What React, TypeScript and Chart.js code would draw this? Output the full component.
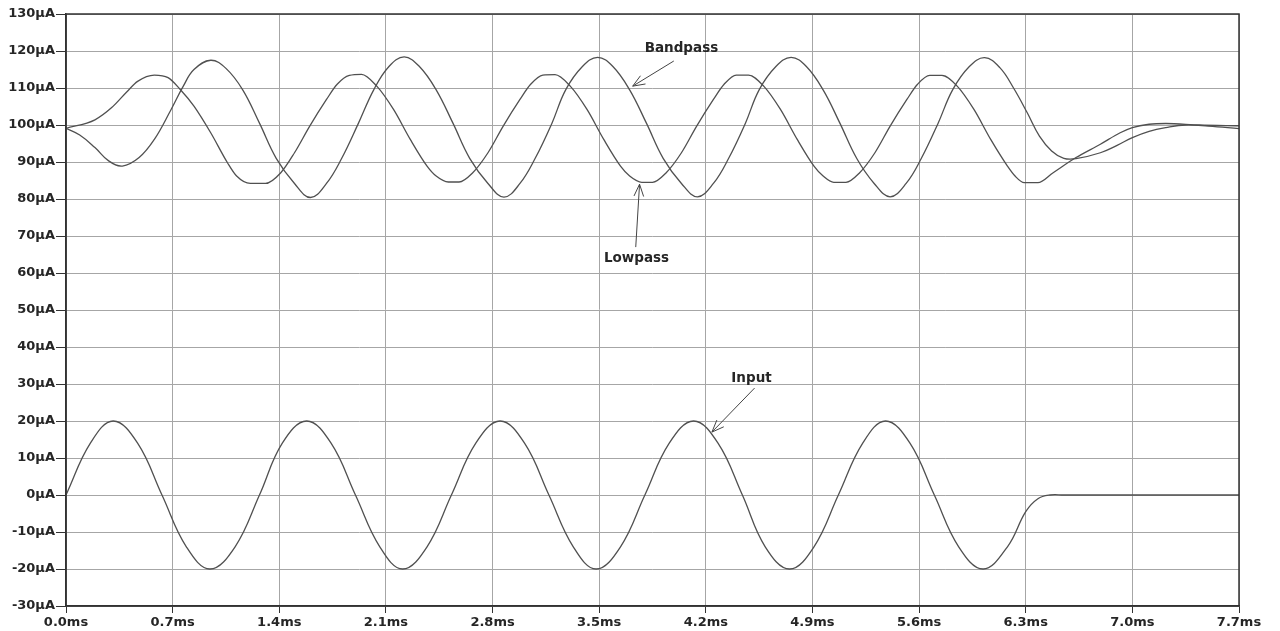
import React, { useEffect, useRef } from "react";
import { Chart, registerables } from "chart.js";

Chart.register(...registerables);

// Time axis (ms) and current axis (µA) ticks
const xTickValues = [0, 0.7, 1.4, 2.1, 2.8, 3.5, 4.2, 4.9, 5.6, 6.3, 7.0, 7.7];
const xTickLabels = ["0.0ms", "0.7ms", "1.4ms", "2.1ms", "2.8ms", "3.5ms", "4.2ms", "4.9ms", "5.6ms", "6.3ms", "7.0ms", "7.7ms"];
const yTickValues = [-30, -20, -10, 0, 10, 20, 30, 40, 50, 60, 70, 80, 90, 100, 110, 120, 130];
const yTickLabels = ["-30µA", "-20µA", "-10µA", "0µA", "10µA", "20µA", "30µA", "40µA", "50µA", "60µA", "70µA", "80µA", "90µA", "100µA", "110µA", "120µA", "130µA"];

// [time ms, current µA]
const inputPoints: [number, number][] = [
  [0, 0], [0.16, 14], [0.31, 20], [0.47, 14], [0.63, 0], [0.79, -14], [0.945, -20], [1.11, -14],
  [1.27, 0], [1.42, 14], [1.58, 20], [1.74, 14], [1.9, 0], [2.06, -14], [2.21, -20], [2.37, -14],
  [2.53, 0], [2.69, 14], [2.85, 20], [3.01, 14], [3.17, 0], [3.33, -14], [3.48, -20], [3.64, -14],
  [3.8, 0], [3.96, 14], [4.12, 20], [4.28, 14], [4.44, 0], [4.59, -14], [4.75, -20], [4.91, -14],
  [5.07, 0], [5.23, 14], [5.38, 20], [5.54, 14], [5.7, 0], [5.86, -14], [6.02, -20], [6.18, -14],
  [6.3, -4.5], [6.38, -1], [6.46, 0], [6.55, 0], [7.7, 0],
];

const bandpassPoints: [number, number][] = [
  [0, 99.1], [0.09, 97.3], [0.19, 93.9], [0.28, 90.3], [0.37, 88.9], [0.48, 91.2], [0.58, 96.1],
  [0.69, 104.2], [0.77, 110.5], [0.84, 115], [0.95, 117.5],
  [1.05, 115.3], [1.16, 109.5], [1.27, 100.5], [1.38, 91], [1.5, 84.2], [1.605, 80.4],
  [1.71, 84.2], [1.81, 91], [1.92, 100.5], [2.02, 109.5], [2.12, 115.8], [2.22, 118.4],
  [2.32, 115.8], [2.43, 109.5], [2.54, 100.5], [2.65, 91], [2.77, 84.2], [2.875, 80.5],
  [2.98, 84.2], [3.08, 91], [3.19, 100.5], [3.28, 109.5], [3.39, 115.8], [3.49, 118.3],
  [3.59, 115.8], [3.7, 109.5], [3.81, 100.5], [3.92, 91], [4.04, 84.2], [4.145, 80.6],
  [4.25, 84.2], [4.35, 91], [4.46, 100.5], [4.55, 109.5], [4.66, 115.8], [4.76, 118.3],
  [4.86, 115.8], [4.97, 109.5], [5.08, 100.5], [5.19, 91], [5.305, 84.2], [5.41, 80.6],
  [5.515, 84.2], [5.615, 91], [5.725, 100.5], [5.82, 109.5], [5.93, 115.8], [6.03, 118.2],
  [6.13, 115.5], [6.22, 110], [6.31, 103.3], [6.39, 97], [6.47, 93], [6.55, 91], [6.63, 90.9],
  [6.79, 92.5], [6.9, 94.5], [7.0, 96.6], [7.11, 98.3], [7.22, 99.3], [7.35, 100], [7.5, 99.7],
  [7.7, 99.0],
];

const lowpassPoints: [number, number][] = [
  [0, 99.1], [0.19, 101.4], [0.3, 104.7], [0.4, 109], [0.47, 111.8], [0.58, 113.5], [0.67, 112.8],
  [0.75, 109.6], [0.84, 105.1], [0.95, 97.9], [1.06, 89.8], [1.12, 86.2], [1.21, 84.2], [1.31, 84.2],
  [1.41, 87.1], [1.5, 92.5], [1.6, 99.7], [1.71, 106.9], [1.78, 111], [1.86, 113.4], [1.94, 113.7],
  [2.04, 110.5], [2.15, 104.2], [2.26, 96.1], [2.37, 88.9], [2.43, 86.2], [2.51, 84.6], [2.58, 84.6],
  [2.67, 87.1], [2.77, 92.5], [2.87, 99.7], [2.98, 106.9], [3.05, 111], [3.13, 113.5], [3.21, 113.6],
  [3.31, 110.5], [3.42, 104.2], [3.53, 96.1], [3.64, 88.9], [3.7, 86.2], [3.78, 84.5], [3.85, 84.5],
  [3.94, 87.1], [4.04, 92.5], [4.14, 99.7], [4.25, 106.9], [4.32, 111], [4.4, 113.5], [4.48, 113.5],
  [4.58, 110.5], [4.69, 104.2], [4.8, 96.1], [4.91, 88.9], [4.97, 86.2], [5.04, 84.5], [5.12, 84.5],
  [5.21, 87.1], [5.31, 92.5], [5.41, 99.7], [5.52, 106.9], [5.59, 111], [5.67, 113.4], [5.75, 113.4],
  [5.85, 110.5], [5.96, 104.2], [6.07, 96.1], [6.18, 88.9], [6.23, 86.2], [6.29, 84.4], [6.38, 84.4],
  [6.48, 87.1], [6.63, 91.2], [6.79, 94.8], [6.92, 97.9], [7.0, 99.3], [7.11, 100.2], [7.22, 100.4],
  [7.44, 100], [7.7, 99.8],
];

// Callout labels with arrows, in axis units: text centre, arrow tail, arrow tip
const calloutLabels = ["Bandpass", "Lowpass", "Input"];
const calloutTextAt: [number, number][] = [[4.04, 120.6], [3.745, 63.8], [4.5, 31.4]];
const calloutTail: [number, number][] = [[3.99, 117.3], [3.74, 67], [4.52, 28.9]];
const calloutTip: [number, number][] = [[3.72, 110.5], [3.765, 84], [4.24, 17]];

const LINE_COLOR = "#505050";
const GRID_COLOR = "#a6a6a6";
const AXIS_COLOR = "#333";
const TEXT_COLOR = "#262626";
const FONT_FAMILY = "'DejaVu Sans', sans-serif";

const calloutPlugin = {
  id: "callouts",
  afterDatasetsDraw(chart: any) {
    const { ctx, scales } = chart;
    const xs = scales.x;
    const ys = scales.y;
    ctx.save();
    ctx.strokeStyle = "#444";
    ctx.fillStyle = TEXT_COLOR;
    ctx.lineWidth = 1;
    ctx.font = `bold 13.5px ${FONT_FAMILY}`;
    ctx.textAlign = "center";
    ctx.textBaseline = "middle";
    calloutLabels.forEach((label, i) => {
      const tx = xs.getPixelForValue(calloutTextAt[i][0]);
      const ty = ys.getPixelForValue(calloutTextAt[i][1]);
      ctx.fillText(label, tx, ty);
      const ax = xs.getPixelForValue(calloutTail[i][0]);
      const ay = ys.getPixelForValue(calloutTail[i][1]);
      const bx = xs.getPixelForValue(calloutTip[i][0]);
      const by = ys.getPixelForValue(calloutTip[i][1]);
      ctx.beginPath();
      ctx.moveTo(ax, ay);
      ctx.lineTo(bx, by);
      const ang = Math.atan2(ay - by, ax - bx);
      const len = 13;
      const spread = 0.38;
      ctx.moveTo(bx + len * Math.cos(ang + spread), by + len * Math.sin(ang + spread));
      ctx.lineTo(bx, by);
      ctx.lineTo(bx + len * Math.cos(ang - spread), by + len * Math.sin(ang - spread));
      ctx.stroke();
    });
    ctx.restore();
  },
};

const framePlugin = {
  id: "frame",
  afterDatasetsDraw(chart: any) {
    const { ctx, chartArea } = chart;
    ctx.save();
    ctx.strokeStyle = AXIS_COLOR;
    ctx.lineWidth = 1.5;
    ctx.strokeRect(chartArea.left, chartArea.top, chartArea.right - chartArea.left, chartArea.bottom - chartArea.top);
    ctx.restore();
  },
};

const toXY = (pts: [number, number][]) => pts.map(([x, y]) => ({ x, y }));

export default function App() {
  const canvasRef = useRef<HTMLCanvasElement | null>(null);

  useEffect(() => {
    if (!canvasRef.current) return;
    const baseStyle = {
      borderColor: LINE_COLOR,
      borderWidth: 1.3,
      pointRadius: 0,
      fill: false,
    };
    const chart = new Chart(canvasRef.current, {
      type: "line",
      data: {
        datasets: [
          { label: "Input", data: toXY(inputPoints), ...baseStyle, tension: 0.4 },
          { label: "Bandpass", data: toXY(bandpassPoints), ...baseStyle, tension: 0.4 },
          { label: "Lowpass", data: toXY(lowpassPoints), ...baseStyle, cubicInterpolationMode: "monotone" as const },
        ],
      },
      options: {
        responsive: false,
        animation: false,
        events: [],
        layout: { padding: { left: 0, right: 41, top: 14, bottom: 0 } },
        plugins: { legend: { display: false }, tooltip: { enabled: false } },
        scales: {
          x: {
            type: "linear",
            min: 0,
            max: 7.7,
            afterBuildTicks: (scale: any) => {
              scale.ticks = xTickValues.map((v) => ({ value: v }));
            },
            afterFit: (scale: any) => {
              scale.height = 25;
            },
            ticks: {
              autoSkip: false,
              maxRotation: 0,
              padding: 2,
              color: TEXT_COLOR,
              font: { family: FONT_FAMILY, size: 13, weight: "bold" },
              callback: (_v: any, i: number) => xTickLabels[i],
            },
            grid: { color: GRID_COLOR, lineWidth: 1, tickLength: 7, tickColor: AXIS_COLOR },
            border: { display: true, color: AXIS_COLOR, width: 1.5 },
          },
          y: {
            type: "linear",
            min: -30,
            max: 130,
            afterBuildTicks: (scale: any) => {
              scale.ticks = yTickValues.map((v) => ({ value: v }));
            },
            afterFit: (scale: any) => {
              scale.width = 66;
            },
            ticks: {
              autoSkip: false,
              padding: 1,
              color: TEXT_COLOR,
              font: { family: FONT_FAMILY, size: 13, weight: "bold" },
              callback: (_v: any, i: number) => yTickLabels[i],
            },
            grid: { color: GRID_COLOR, lineWidth: 1, tickLength: 10, tickColor: AXIS_COLOR },
            border: { display: true, color: AXIS_COLOR, width: 1.5 },
          },
        },
      },
      plugins: [framePlugin, calloutPlugin],
    });
    return () => chart.destroy();
  }, []);

  return (
    <div style={{ position: "absolute", left: 0, top: 0, width: 1280, height: 631, background: "#fff" }}>
      <canvas ref={canvasRef} width={1280} height={631} />
    </div>
  );
}
